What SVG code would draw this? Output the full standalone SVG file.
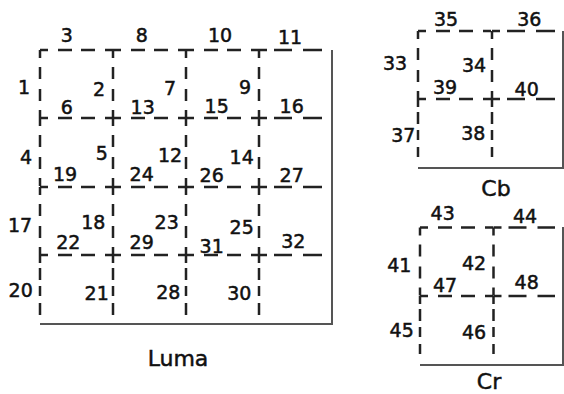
<svg xmlns="http://www.w3.org/2000/svg" width="564" height="394" viewBox="0 0 564 394">
<style>
.bg{fill:#fff}
.d{stroke:#222;stroke-width:2.5;fill:none}
.h{stroke-dasharray:8 10 14 9 14 10 8}
.hl{stroke-dasharray:8 7 18 11 19}
.v{stroke-dasharray:8 9 12 10 12 9 8}
.vl{stroke-dasharray:8 5 12 6 10 7 12}
.s{stroke:#555;stroke-width:2;fill:none}
text{font-family:"DejaVu Sans","Liberation Sans",Arial,sans-serif;font-size:19px;fill:#111;stroke:#111;stroke-width:0.5;text-anchor:middle}
.t{font-size:22px}
</style>
<rect class="bg" width="564" height="394"/>
<g id="luma">
<g class="d">
<line class="h" x1="40" y1="50" x2="113" y2="50"/><line class="h" x1="113" y1="50" x2="186" y2="50"/><line class="h" x1="186" y1="50" x2="259" y2="50"/><line class="hl" x1="259" y1="50" x2="322" y2="50"/>
<line class="h" x1="40" y1="118" x2="113" y2="118"/><line class="h" x1="113" y1="118" x2="186" y2="118"/><line class="h" x1="186" y1="118" x2="259" y2="118"/><line class="hl" x1="259" y1="118" x2="322" y2="118"/>
<line class="h" x1="40" y1="187" x2="113" y2="187"/><line class="h" x1="113" y1="187" x2="186" y2="187"/><line class="h" x1="186" y1="187" x2="259" y2="187"/><line class="hl" x1="259" y1="187" x2="322" y2="187"/>
<line class="h" x1="40" y1="255" x2="113" y2="255"/><line class="h" x1="113" y1="255" x2="186" y2="255"/><line class="h" x1="186" y1="255" x2="259" y2="255"/><line class="hl" x1="259" y1="255" x2="322" y2="255"/>
<line class="v" x1="40" y1="50" x2="40" y2="118"/><line class="v" x1="40" y1="118" x2="40" y2="187"/><line class="v" x1="40" y1="187" x2="40" y2="255"/><line class="vl" x1="40" y1="255" x2="40" y2="315"/>
<line class="v" x1="113" y1="50" x2="113" y2="118"/><line class="v" x1="113" y1="118" x2="113" y2="187"/><line class="v" x1="113" y1="187" x2="113" y2="255"/><line class="vl" x1="113" y1="255" x2="113" y2="315"/>
<line class="v" x1="186" y1="50" x2="186" y2="118"/><line class="v" x1="186" y1="118" x2="186" y2="187"/><line class="v" x1="186" y1="187" x2="186" y2="255"/><line class="vl" x1="186" y1="255" x2="186" y2="315"/>
<line class="v" x1="259" y1="50" x2="259" y2="118"/><line class="v" x1="259" y1="118" x2="259" y2="187"/><line class="v" x1="259" y1="187" x2="259" y2="255"/><line class="vl" x1="259" y1="255" x2="259" y2="315"/>
</g>
<polyline class="s" points="332,50 332,324 40,324"/>
<text class="t" x="178" y="366">Luma</text>
</g>
<g id="cb">
<g class="d">
<line class="h" x1="418" y1="31" x2="492" y2="31"/><line class="hl" x1="492" y1="31" x2="555" y2="31"/>
<line class="h" x1="418" y1="99" x2="492" y2="99"/><line class="hl" x1="492" y1="99" x2="555" y2="99"/>
<line class="v" x1="418" y1="31" x2="418" y2="99"/><line class="vl" x1="418" y1="99" x2="418" y2="157"/>
<line class="v" x1="492" y1="31" x2="492" y2="99"/><line class="vl" x1="492" y1="99" x2="492" y2="157"/>
</g>
<polyline class="s" points="563,31 563,168 418,168"/>
<text class="t" x="496" y="196">Cb</text>
</g>
<g id="cr">
<g class="d">
<line class="h" x1="420" y1="227.5" x2="493.5" y2="227.5"/><line class="hl" x1="493.5" y1="227.5" x2="555" y2="227.5"/>
<line class="h" x1="420" y1="296" x2="493.5" y2="296"/><line class="hl" x1="493.5" y1="296" x2="555" y2="296"/>
<line class="v" x1="420" y1="227.5" x2="420" y2="296"/><line class="vl" x1="420" y1="296" x2="420" y2="354"/>
<line class="v" x1="493.5" y1="227.5" x2="493.5" y2="296"/><line class="vl" x1="493.5" y1="296" x2="493.5" y2="354"/>
</g>
<polyline class="s" points="563,227 563,365 420,365"/>
<text class="t" x="489" y="388.5">Cr</text>
</g>
<g id="labels">
<text x="66.7" y="42">3</text><text x="141.7" y="42">8</text><text x="220" y="42">10</text><text x="290" y="43.5">11</text>
<text x="24" y="93.5">1</text><text x="99" y="96">2</text><text x="170" y="94.5">7</text><text x="245" y="93.5">9</text>
<text x="66.7" y="114">6</text><text x="142.7" y="114">13</text><text x="216.7" y="113">15</text><text x="291.7" y="113">16</text>
<text x="26" y="163.5">4</text><text x="101.7" y="160">5</text><text x="170" y="162">12</text><text x="241.7" y="163.5">14</text>
<text x="65" y="181">19</text><text x="141.7" y="181">24</text><text x="211.7" y="182">26</text><text x="291.7" y="182">27</text>
<text x="20" y="232">17</text><text x="93.3" y="228.5">18</text><text x="166.7" y="228.5">23</text><text x="241.7" y="233.5">25</text>
<text x="68.3" y="248.5">22</text><text x="141.7" y="248.5">29</text><text x="211.7" y="253">31</text><text x="293.3" y="248">32</text>
<text x="20.7" y="297">20</text><text x="96.7" y="299.5">21</text><text x="168.3" y="298.5">28</text><text x="239.3" y="299.5">30</text>
<text x="446" y="26.3">35</text><text x="529.3" y="26.3">36</text>
<text x="395" y="70.3">33</text><text x="474" y="72">34</text>
<text x="445" y="94.3">39</text><text x="526.7" y="96.3">40</text>
<text x="403.3" y="142">37</text><text x="473.3" y="139.7">38</text>
<text x="442.7" y="220.3">43</text><text x="525" y="222.7">44</text>
<text x="399.3" y="272">41</text><text x="474" y="270.3">42</text>
<text x="445" y="292">47</text><text x="526.7" y="289.3">48</text>
<text x="401.7" y="337">45</text><text x="474" y="338.7">46</text>
</g>
</svg>
